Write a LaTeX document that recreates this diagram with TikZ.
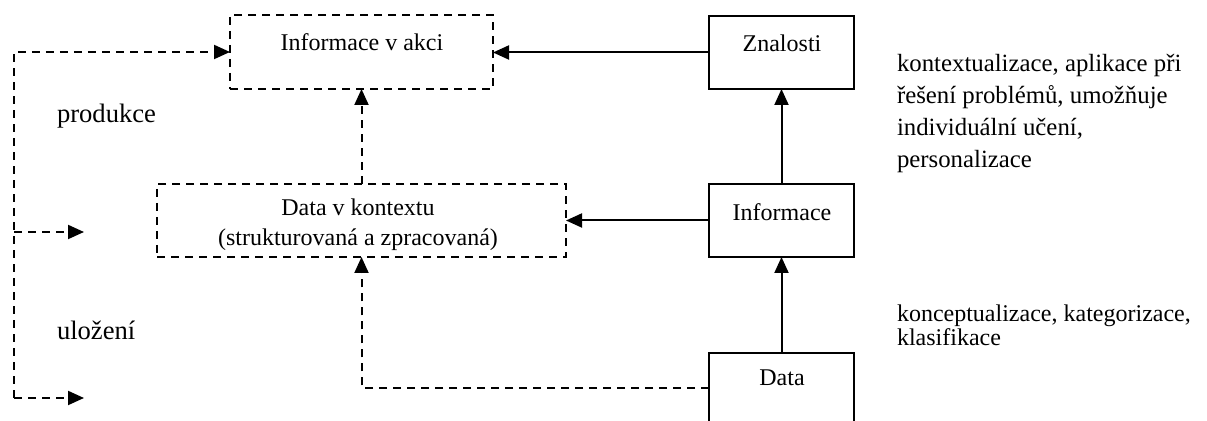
\documentclass[tikz,border=0pt]{standalone}
\usepackage{fontspec}
\setmainfont{Liberation Serif}
\usetikzlibrary{arrows.meta}
\begin{document}
\begin{tikzpicture}[x=0.5pt,y=-0.5pt,
  every node/.style={inner sep=0pt,outer sep=0pt},
  sbox/.style={draw,line width=1pt,rectangle},
  dbox/.style={draw,line width=1pt,rectangle,dash pattern=on 4pt off 3pt},
  boxtext/.style={font=\fontsize{12}{15}\selectfont,align=center},
  sidetext/.style={font=\fontsize{13.3}{16}\selectfont},
  solidarrow/.style={line width=1pt,-{Triangle[length=8pt,width=7pt]}},
  dasharrow/.style={line width=1pt,dash pattern=on 4pt off 3pt,-{Triangle[length=8pt,width=7pt]}}
]
\useasboundingbox (0,0) rectangle (1207,421);
\clip (0,0) rectangle (1207,421);
% boxes
\node[dbox,minimum width=131.5pt,minimum height=37pt] (A) at (361.5,52) {};
\node[dbox,minimum width=204.5pt,minimum height=36.5pt] (B) at (361.5,220.5) {};
\node[sbox,minimum width=72.5pt,minimum height=36.5pt] (Z) at (781.5,52.5) {};
\node[sbox,minimum width=72.5pt,minimum height=36.5pt] (I) at (781.5,220.5) {};
\node[sbox,minimum width=72.5pt,minimum height=47pt] (D) at (781.5,400) {};
% box texts
\node[boxtext] (At) at (362,42) {Informace v akci};
\node[boxtext] (Bt) at (358,225) {Data v kontextu\\(strukturovaná a zpracovaná)};
\node[boxtext] (Zt) at (782,43) {Znalosti};
\node[boxtext] (It) at (782,212) {Informace};
\node[boxtext] (Dt) at (782,378) {Data};
% side texts
\node[sidetext,anchor=base west] (P) at (57,123) {produkce};
\node[sidetext,anchor=base west] (U) at (57,340) {uložení};
\node[anchor=north west,align=left,font=\fontsize{12.4}{16}\selectfont] (R1) at (897,54)
  {kontextualizace, aplikace při\\řešení problémů, umožňuje\\individuální učení,\\personalizace};
\node[anchor=north west,align=left,font=\fontsize{12}{11}\selectfont] (R2) at (897,305)
  {konceptualizace, kategorizace,\\klasifikace};
% connectors
\draw[solidarrow] (Z.west) -- (Z.west -| A.east);
\draw[solidarrow] (I.west) -- (I.west -| B.east);
\draw[solidarrow] (I.north) -- (Z.south);
\draw[solidarrow] (D.north) -- (I.south);
\draw[dasharrow] ([yshift=6pt]D.west) -| (B.south);
\draw[dasharrow] (B.north) -- (A.south);
\coordinate (L1) at (14,52);
\coordinate (Lm) at (14,232);
\coordinate (L2) at (14,398);
\coordinate (E1) at (84,232);
\coordinate (E2) at (84,398);
\draw[dasharrow] (L2) -- (L1) -- (L1 -| A.west);
\draw[dasharrow] (Lm) -- (E1);
\draw[dasharrow] (L2) -- (E2);
\end{tikzpicture}
\end{document}
